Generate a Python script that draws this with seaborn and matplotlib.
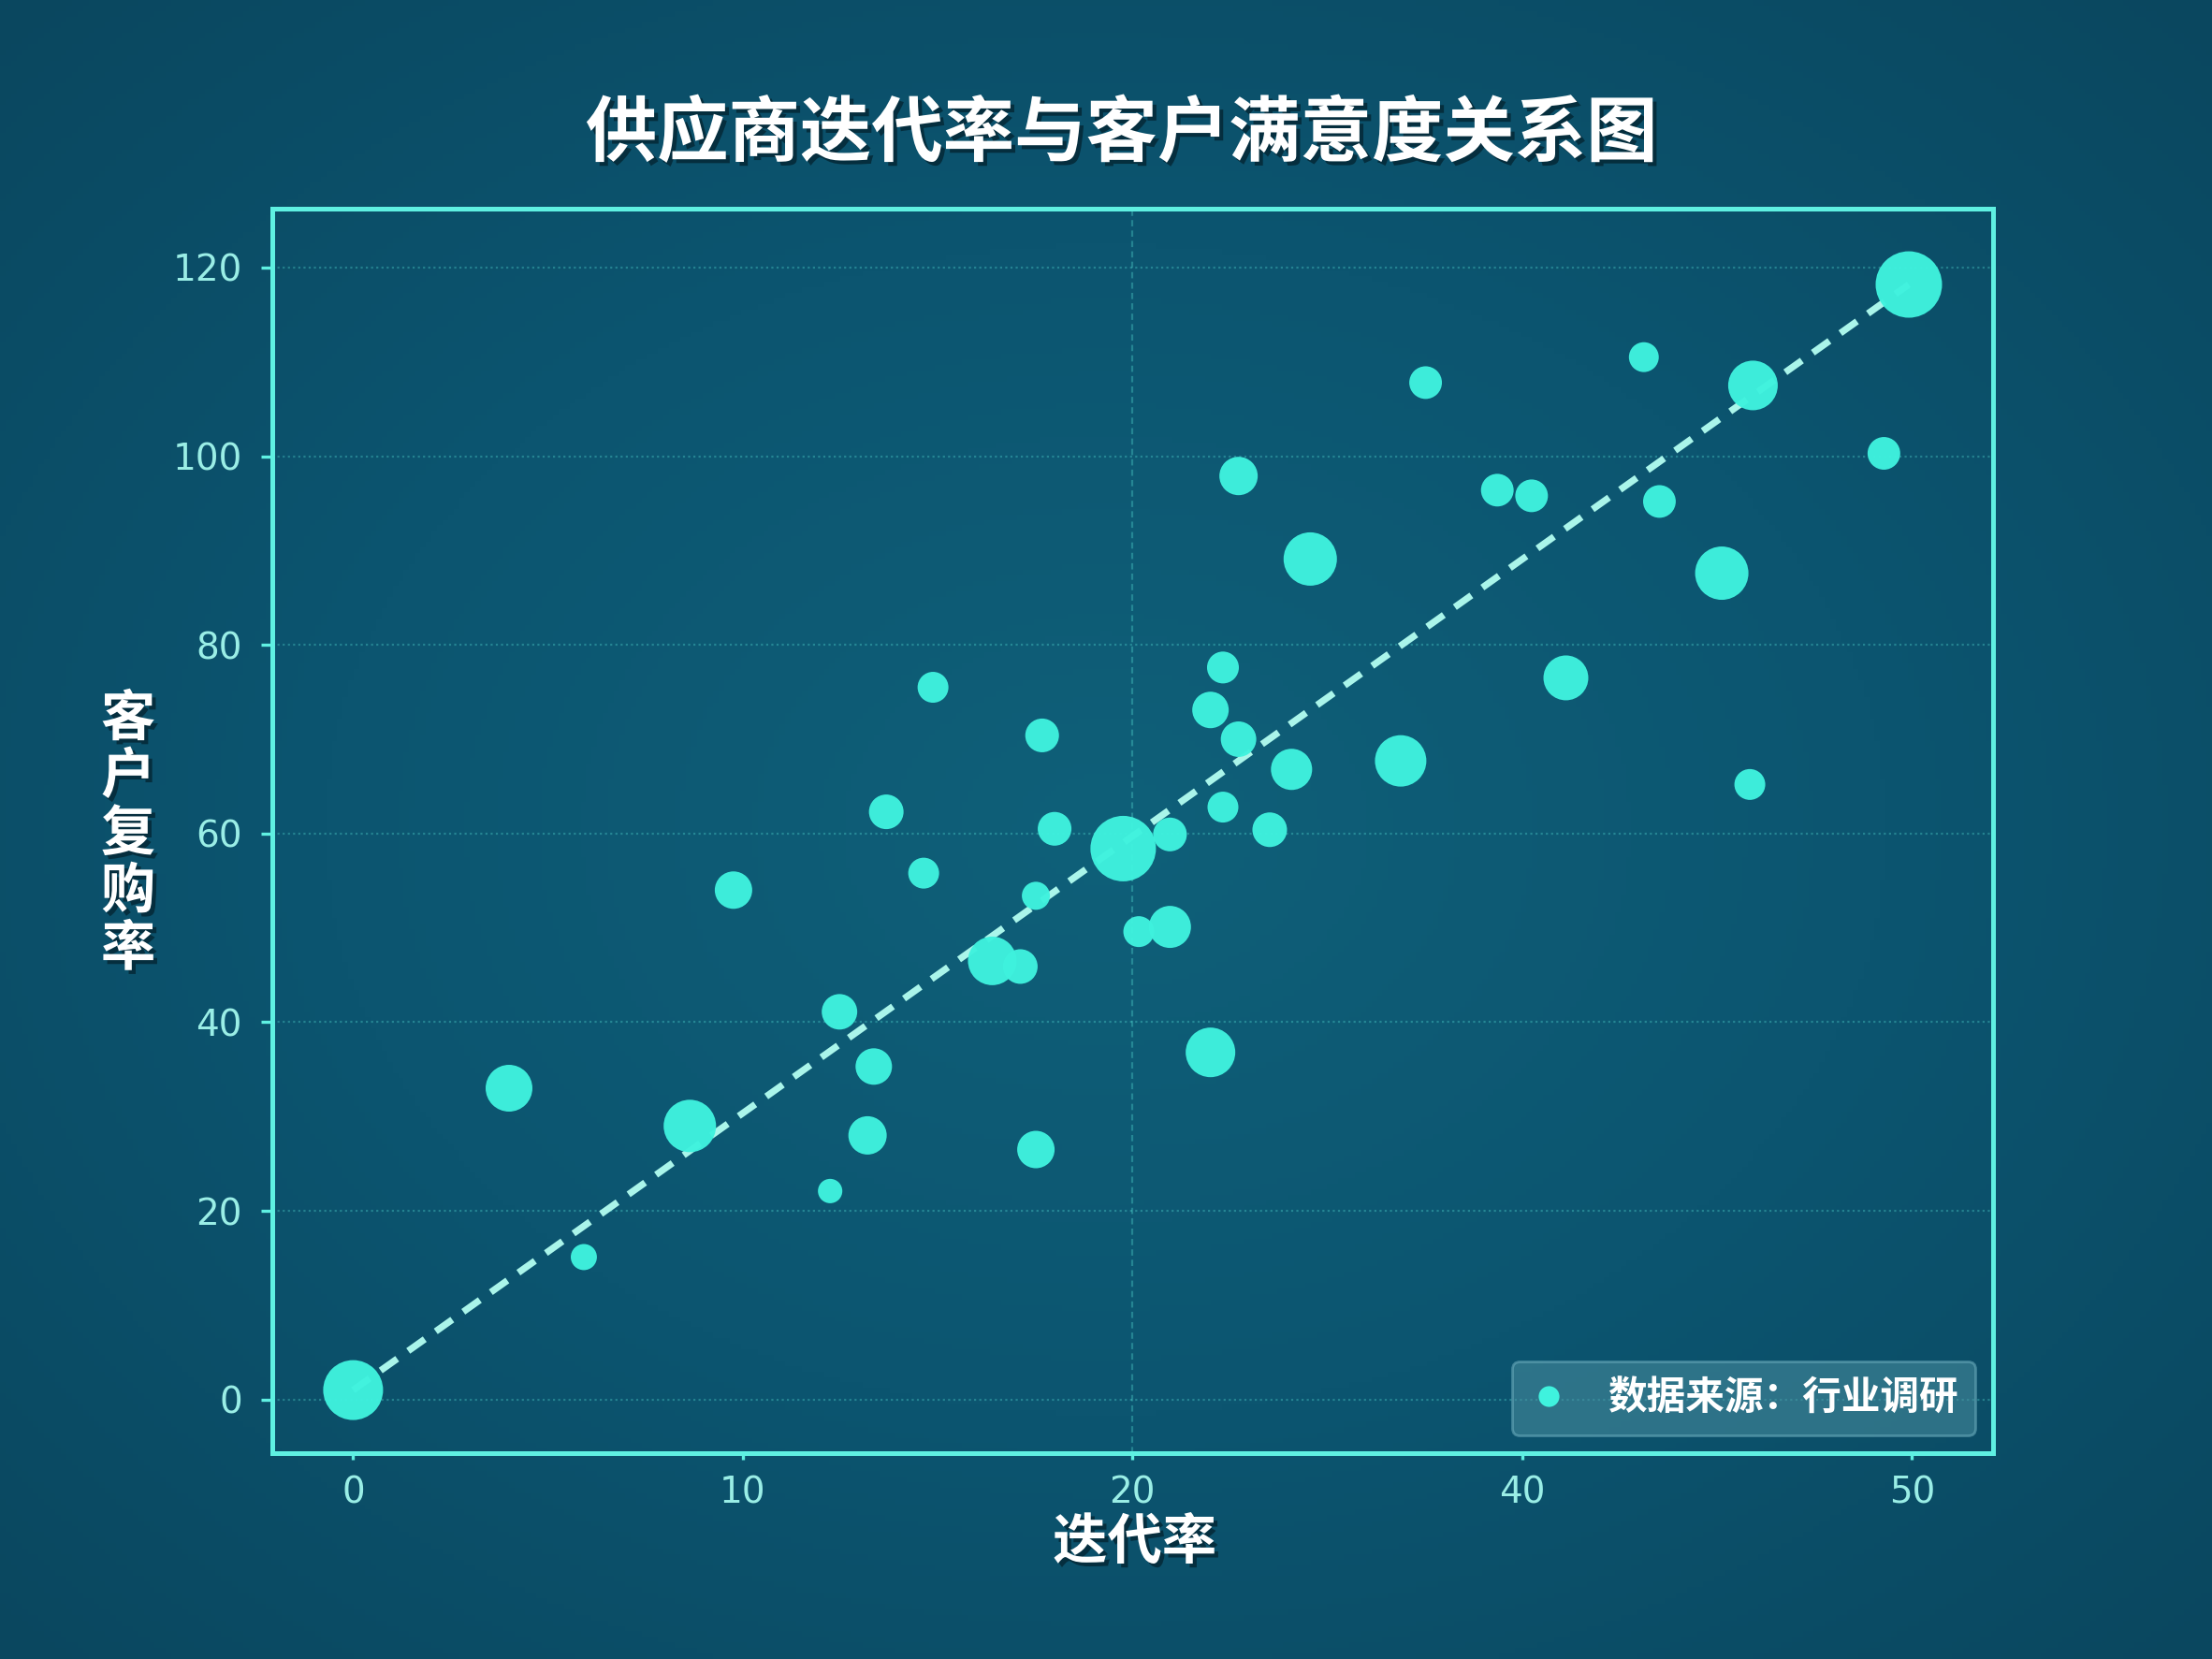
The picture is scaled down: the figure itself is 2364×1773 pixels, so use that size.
import numpy as np
import pandas as pd
import seaborn as sns
import matplotlib.pyplot as plt
from matplotlib.colors import LinearSegmentedColormap
from matplotlib.lines import Line2D
import matplotlib.patheffects as pe


# data
iteration_rate = [0.0, 5.0, 7.4, 10.8, 12.2, 15.3, 15.6, 16.5, 16.7, 17.1, 18.3,
                  18.6, 20.5, 21.4, 21.9, 21.9, 22.1, 22.5, 24.7, 25.2, 26.2, 26.2,
                  27.5, 27.5, 27.9, 27.9, 28.4, 28.4, 29.4, 30.1, 30.7, 33.6, 34.4,
                  36.7, 37.8, 38.9, 41.4, 41.9, 43.9, 44.8, 44.9, 49.1, 49.9]
repurchase_rate = [1.0, 33.0, 15.1, 29.0, 54.0, 22.1, 41.1, 28.0, 35.3, 62.3, 55.8,
                   75.5, 46.5, 45.9, 53.4, 26.5, 70.4, 60.5, 58.4, 49.6, 59.9, 50.1,
                   73.1, 36.8, 77.6, 62.8, 70.0, 97.9, 60.4, 66.8, 89.1, 67.7, 107.8,
                   96.4, 95.8, 76.5, 110.5, 95.2, 87.6, 65.2, 107.5, 100.3, 118.2]
volume = [410, 250, 78, 314, 160, 68, 144, 168, 152, 137, 109,
          109, 270, 137, 90, 160, 130, 130, 490, 109, 130, 202,
          152, 281, 116, 109, 144, 168, 137, 194, 325, 302, 122,
          122, 122, 230, 102, 122, 325, 109, 281, 122, 504]
x_tick_labels = ["0", "10", "20", "40", "50"]
y_ticks = [0, 20, 40, 60, 80, 100, 120]

df = pd.DataFrame({"迭代率": iteration_rate, "客户复购率": repurchase_rate, "规模": volume})

sns.set_theme(style="dark")
plt.rcParams['font.family'] = ['Noto Sans CJK SC', 'DejaVu Sans']
plt.rcParams['axes.unicode_minus'] = False

point_color = "#3ff2de"
line_color = "#aaf5ea"
spine_color = "#5ff0e2"
tick_color = "#9aeee6"

fig = plt.figure(figsize=(11.82, 8.865), dpi=200)

# background with a soft vignette
bg = fig.add_axes([0, 0, 1, 1], zorder=-10)
yy, xx = np.mgrid[-1:1:300j, -1:1:400j]
r = np.sqrt(xx ** 2 + yy ** 2) / np.sqrt(2)
cmap_bg = LinearSegmentedColormap.from_list("bg", ["#0f6079", "#0c5570", "#0a475f"])
bg.imshow(r, cmap=cmap_bg, aspect="auto", extent=[0, 1, 0, 1], vmin=0, vmax=1)
bg.axis("off")

ax = fig.add_axes([0.123, 0.124, 0.778, 0.750])
ax.set_facecolor("none")

# trend line from the first to the last supplier
x0, x1 = df["迭代率"].iloc[0], df["迭代率"].iloc[-1]
y0, y1 = df["客户复购率"].iloc[0], df["客户复购率"].iloc[-1]
ax.plot([x0, x1], [y0, y1], color=line_color, lw=2.6, linestyle=(0, (3, 2)), zorder=2)

sns.scatterplot(data=df, x="迭代率", y="客户复购率", size="规模",
                sizes=(88, 653), size_norm=(min(volume), max(volume)),
                color=point_color, edgecolor="none", alpha=0.97,
                legend=False, ax=ax, zorder=3)

ax.set_xlim(-2.6, 52.6)
ax.set_ylim(-5.7, 126.2)
ax.set_xticks(np.linspace(0, 50, 5))
ax.set_xticklabels(x_tick_labels)
ax.set_yticks(y_ticks)

ax.grid(False)
for v in y_ticks:
    ax.axhline(v, color=spine_color, alpha=0.3, lw=0.8, linestyle=(0, (1, 1.5)), zorder=1)
ax.axvline(25, color=spine_color, alpha=0.3, lw=0.8, linestyle=(0, (3, 2)), zorder=1)

for s in ax.spines.values():
    s.set_color(spine_color)
    s.set_linewidth(1.8)
    s.set_visible(True)

ax.tick_params(axis="both", colors=spine_color, labelcolor=tick_color, labelsize=14,
               direction="out", bottom=True, left=True)
ax.tick_params(axis="y", length=4.5, width=1.2, pad=7)
ax.tick_params(axis="x", length=2.5, width=1.2, pad=6)
for lab in ax.get_xticklabels() + ax.get_yticklabels():
    lab.set_fontfamily("DejaVu Sans")

shadow = [pe.withSimplePatchShadow(offset=(1.5, -1.5), shadow_rgbFace="#03202b", alpha=0.7)]

ax.set_xlabel("")
ax.set_ylabel("")
fig.text(0.513, 0.07, "迭代率", ha="center", va="center", fontsize=21,
         fontweight="bold", color="white", path_effects=shadow)
fig.text(0.058, 0.497, "客\n户\n复\n购\n率", ha="center", va="center", fontsize=21,
         fontweight="bold", color="white", linespacing=1.03, path_effects=shadow)
fig.text(0.507, 0.919, "供应商迭代率与客户满意度关系图", ha="center", va="center",
         fontsize=27.5, fontweight="bold", color="white", path_effects=shadow)

handle = Line2D([], [], marker="o", linestyle="none", markersize=8,
                markerfacecolor=point_color, markeredgecolor="none")
leg = ax.legend([handle], ["数据来源：行业调研"], loc="lower right",
                frameon=True, fontsize=15, borderpad=0.45, handlelength=1.0,
                handletextpad=1.0, borderaxespad=0.45, fancybox=True)
leg.get_frame().set_facecolor("#4a8fa0")
leg.get_frame().set_alpha(0.55)
leg.get_frame().set_edgecolor("#6fb0c0")
for t in leg.get_texts():
    t.set_color("white")
    t.set_fontweight("bold")

fig.savefig("out.png", dpi=200)
